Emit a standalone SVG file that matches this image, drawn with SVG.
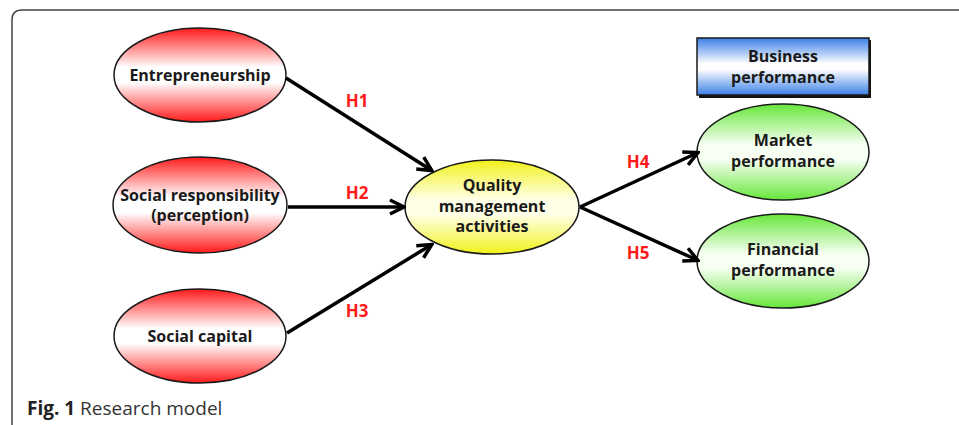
<svg xmlns="http://www.w3.org/2000/svg" width="959" height="425" viewBox="0 0 959 425">
<defs>
<linearGradient id="gRed" x1="0" y1="0" x2="0" y2="1">
<stop offset="0" stop-color="#ff1a1a"/><stop offset="0.42" stop-color="#ffffff"/><stop offset="0.58" stop-color="#ffffff"/><stop offset="1" stop-color="#ff1a1a"/>
</linearGradient>
<linearGradient id="gYel" x1="0" y1="0" x2="0" y2="1">
<stop offset="0" stop-color="#f2f21a"/><stop offset="0.42" stop-color="#ffffe8"/><stop offset="0.58" stop-color="#ffffe8"/><stop offset="1" stop-color="#f2f21a"/>
</linearGradient>
<linearGradient id="gGrn" x1="0" y1="0" x2="0" y2="1">
<stop offset="0" stop-color="#66e63a"/><stop offset="0.42" stop-color="#f6fff2"/><stop offset="0.58" stop-color="#f6fff2"/><stop offset="1" stop-color="#66e63a"/>
</linearGradient>
<linearGradient id="gBlu" x1="0" y1="0" x2="0" y2="1">
<stop offset="0" stop-color="#3a7fe6"/><stop offset="0.45" stop-color="#ffffff"/><stop offset="0.55" stop-color="#ffffff"/><stop offset="1" stop-color="#3a7fe6"/>
</linearGradient>
<marker id="arrB" markerWidth="18" markerHeight="18" refX="15" refY="9" orient="auto" markerUnits="userSpaceOnUse">
<path d="M2,2 L16,9 L2,16" fill="none" stroke="#000" stroke-width="3.5" stroke-linejoin="miter"/>
</marker>
</defs>
<style>
.node{stroke:#1a1a1a;stroke-width:1.5}
.t{font-family:"Open Sans","Noto Sans","DejaVu Sans",sans-serif;font-weight:bold;font-size:16px;fill:#1a1a1a;text-anchor:middle}
.h{font-family:"Open Sans","Noto Sans",sans-serif;font-weight:bold;font-size:17px;fill:#ff1a1a;text-anchor:middle}
.conn line{stroke:#000;stroke-width:3.5;marker-end:url(#arrB)}
.cap{font-family:"Open Sans","Noto Sans",sans-serif;font-size:19px;fill:#333}
</style>
<rect width="959" height="425" fill="#fff"/>
<path d="M12,425 L12,20 Q12,10 22,10 L959,10" fill="none" stroke="#444" stroke-width="1.5"/>

<g id="entrepreneurship">
<ellipse class="node" cx="200" cy="75" rx="86" ry="47" fill="url(#gRed)"/>
<text class="t" x="200" y="81">Entrepreneurship</text>
</g>
<g id="social-responsibility">
<ellipse class="node" cx="200" cy="205" rx="87" ry="48" fill="url(#gRed)"/>
<text class="t" x="200" y="201">Social responsibility</text>
<text class="t" x="200" y="221">(perception)</text>
</g>
<g id="social-capital">
<ellipse class="node" cx="200" cy="336" rx="86" ry="47" fill="url(#gRed)"/>
<text class="t" x="200" y="342">Social capital</text>
</g>
<g id="quality">
<ellipse class="node" cx="492" cy="207" rx="87" ry="47" fill="url(#gYel)"/>
<text class="t" x="492" y="191">Quality</text>
<text class="t" x="492" y="212">management</text>
<text class="t" x="492" y="232">activities</text>
</g>
<g id="business-performance">
<rect x="699" y="40" width="172" height="58" fill="#111"/>
<rect class="node" x="697" y="38" width="172" height="57" fill="url(#gBlu)"/>
<text class="t" x="783" y="62">Business</text>
<text class="t" x="783" y="83">performance</text>
</g>
<g id="market">
<ellipse class="node" cx="783" cy="152" rx="86" ry="48" fill="url(#gGrn)"/>
<text class="t" x="783" y="146">Market</text>
<text class="t" x="783" y="167">performance</text>
</g>
<g id="financial">
<ellipse class="node" cx="783" cy="261" rx="86" ry="47" fill="url(#gGrn)"/>
<text class="t" x="783" y="255">Financial</text>
<text class="t" x="783" y="276">performance</text>
</g>

<g id="connectors" class="conn">
<line x1="286" y1="78" x2="431" y2="170"/>
<line x1="288" y1="207" x2="403" y2="207"/>
<line x1="287" y1="333" x2="431" y2="245"/>
<line x1="580" y1="207" x2="697" y2="153"/>
<line x1="580" y1="207" x2="697" y2="260"/>
</g>
<g id="labels">
<text class="h" x="357" y="107">H1</text>
<text class="h" x="357" y="199">H2</text>
<text class="h" x="357" y="317">H3</text>
<text class="h" x="638" y="168">H4</text>
<text class="h" x="638" y="259">H5</text>
</g>
<text class="cap" x="27" y="415"><tspan font-weight="bold" fill="#222">Fig. 1</tspan> Research model</text>
</svg>
